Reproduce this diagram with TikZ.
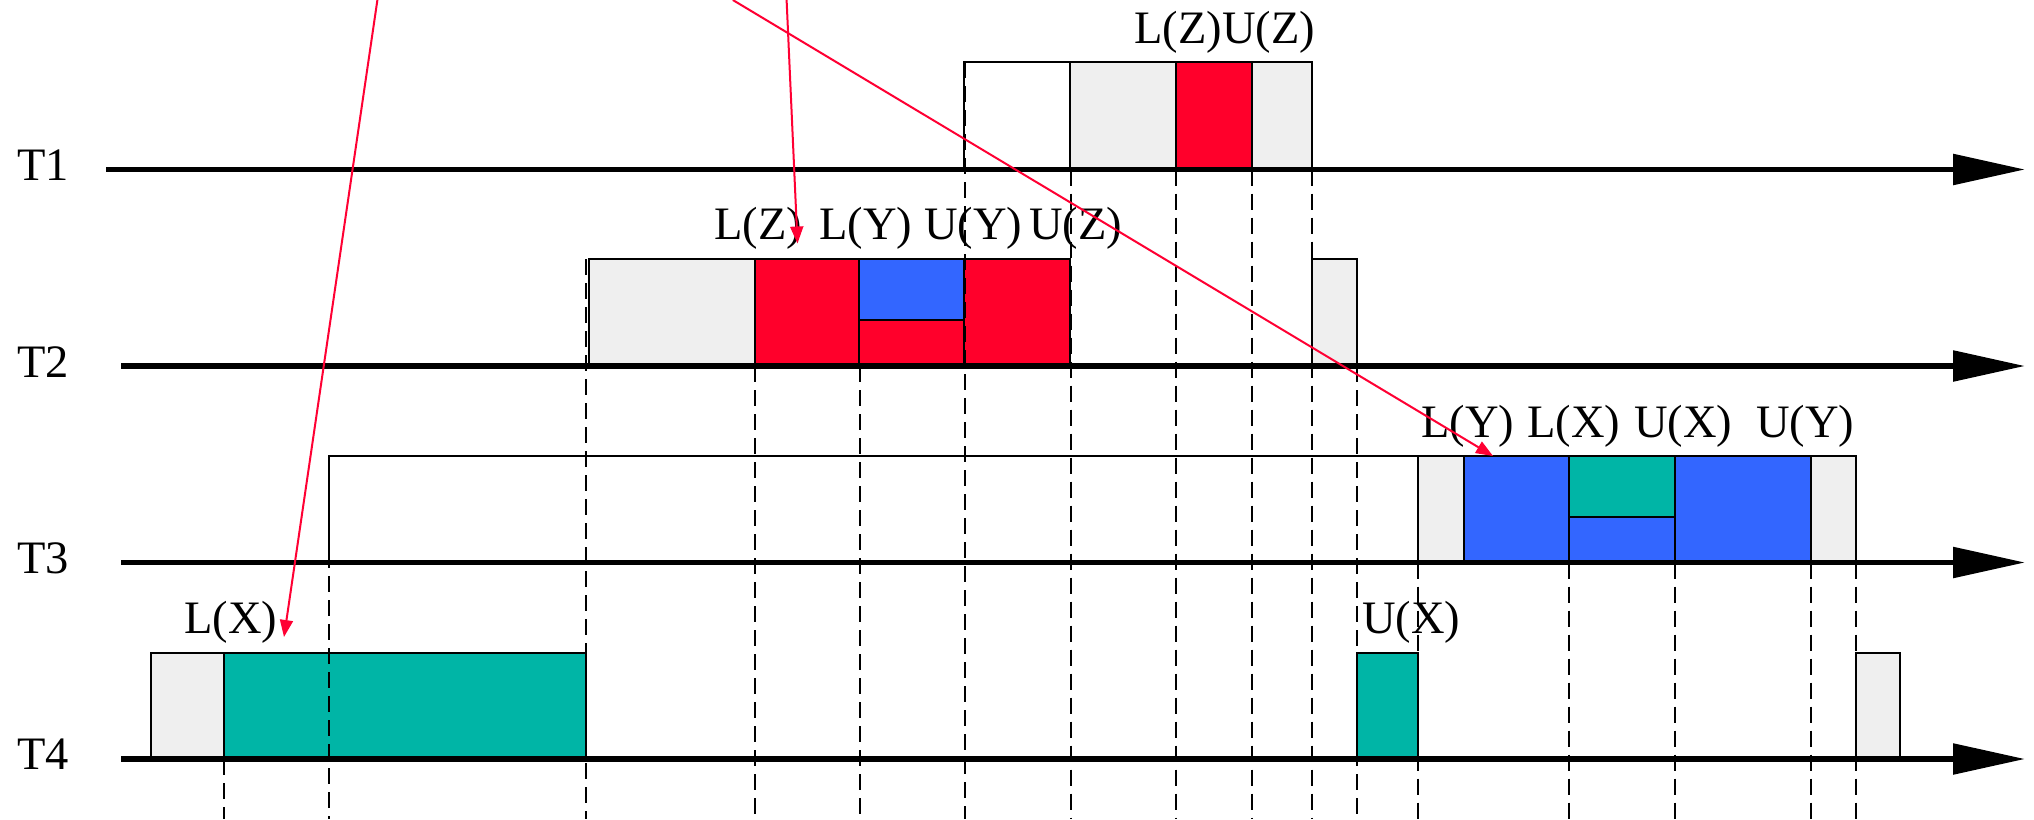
\documentclass[tikz,border=0pt]{standalone}
\usepackage{fontspec}
\setmainfont{Liberation Serif}
\usetikzlibrary{arrows.meta}

\definecolor{idle}{HTML}{EFEFEF}
\definecolor{holdz}{HTML}{FF002B}
\definecolor{holdy}{HTML}{3366FF}
\definecolor{holdx}{HTML}{00B5A6}
\definecolor{link}{HTML}{FF0033}

\begin{document}
\begin{tikzpicture}[x=1pt,y=-1pt,
  axis/.style={line width=5.5pt,-{Triangle[length=72pt,width=30pt]}},
  seg/.style={draw=black,line width=2pt},
  guide/.style={line width=1.8pt,dash pattern=on 16pt off 8pt},
  lbl/.style={inner sep=0pt,anchor=base west,font=\fontsize{46.5}{50}\selectfont},
  ref/.style={draw=link,line width=2pt,-{Triangle[length=17pt,width=13pt]}}]

\clip (0,0) rectangle (2034,819);

% ---- T1 activity
\draw[seg] (964,62) rectangle (1070,169.5);
\draw[seg,fill=idle]  (1070,62) rectangle (1176,169.5);
\draw[seg,fill=holdz] (1176,62) rectangle (1252,169.5);
\draw[seg,fill=idle]  (1252,62) rectangle (1312,169.5);

% ---- T2 activity
\draw[seg,fill=idle]  (589,259) rectangle (755,366);
\draw[seg,fill=holdz] (755,259) rectangle (859,366);
\draw[seg,fill=holdy] (859,259) rectangle (964,320);
\draw[seg,fill=holdz] (859,320) rectangle (964,366);
\draw[seg,fill=holdz] (964,259) rectangle (1070,366);
\draw[seg,fill=idle]  (1312,259) rectangle (1357,366);

% ---- T3 activity
\draw[seg] (329,456) rectangle (1418,562.5);
\draw[seg,fill=idle]  (1418,456) rectangle (1464,562.5);
\draw[seg,fill=holdy] (1464,456) rectangle (1569,562.5);
\draw[seg,fill=holdx] (1569,456) rectangle (1675,516.5);
\draw[seg,fill=holdy] (1569,516.5) rectangle (1675,562.5);
\draw[seg,fill=holdy] (1675,456) rectangle (1811,562.5);
\draw[seg,fill=idle]  (1811,456) rectangle (1856,562.5);

% ---- T4 activity
\draw[seg,fill=idle]  (151,652.5) rectangle (224,759);
\draw[seg,fill=holdx] (224,652.5) rectangle (586,759);
\draw[seg,fill=holdx] (1357,652.5) rectangle (1418,759);
\draw[seg,fill=idle]  (1856,652.5) rectangle (1900,759);

% ---- event guides down to the bottom edge
\foreach \gx/\gy in {224/759, 329/456, 586/259, 755/366, 860/366, 965/62,
                     1071/169.5, 1176/169.5, 1252/169.5, 1312/169.5, 1357/366,
                     1418/562.5, 1569/562.5, 1675/562.5, 1811/562.5, 1856/562.5}
  \draw[guide] (\gx,\gy) -- (\gx,819);

% ---- time axes
\node[lbl] (t1) at (17,180.5) {T1};
\node[lbl] (t2) at (17,377) {T2};
\node[lbl] (t3) at (17,573) {T3};
\node[lbl] (t4) at (17,769.5) {T4};
\coordinate (a1s) at (106,169.5);  \coordinate (a1e) at (2025,169.5);
\coordinate (a2s) at (121,366);    \coordinate (a2e) at (2025,366);
\coordinate (a3s) at (121,562.5);  \coordinate (a3e) at (2025,562.5);
\coordinate (a4s) at (121,759);    \coordinate (a4e) at (2025,759);
\draw[axis] (a1s) -- (a1e);
\draw[axis] (a2s) -- (a2e);
\draw[axis] (a3s) -- (a3e);
\draw[axis] (a4s) -- (a4e);

% ---- lock / unlock labels
\node[lbl] (lzuz) at (1134,43.3) {L(Z)U(Z)};
\node[lbl] (lz2) at (714,239.3) {L(Z)};
\node[lbl] (ly2) at (819,239.3) {L(Y)};
\node[lbl] (uy2) at (924,239.3) {U(Y)};
\node[lbl] (uz2) at (1029,239.3) {U(Z)};
\node[lbl] (ly3) at (1421,437) {L(Y)};
\node[lbl] (lx3) at (1527,437) {L(X)};
\node[lbl] (ux3) at (1634,437) {U(X)};
\node[lbl] (uy3) at (1756,437) {U(Y)};
\node[lbl] (lx4) at (184,633) {L(X)};
\node[lbl] (ux4) at (1362,633) {U(X)};

% ---- red pointers to lock requests
\coordinate (p1) at (377.4,0);   \coordinate (q1) at (284,637);
\coordinate (p2) at (786.6,0);   \coordinate (q2) at (797.5,243.5);
\coordinate (p3) at (732.8,0);   \coordinate (q3) at (1493,456);
\draw[ref] (p1) -- (q1);
\draw[ref] (p2) -- (q2);
\draw[ref] (p3) -- (q3);
\end{tikzpicture}
\end{document}
